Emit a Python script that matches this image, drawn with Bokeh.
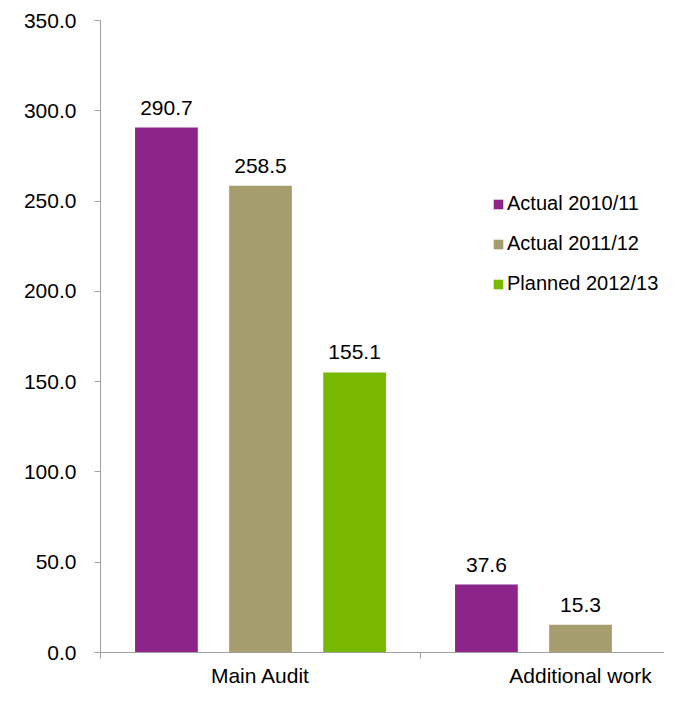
from bokeh.plotting import figure
from bokeh.models import (ColumnDataSource, Range1d, FixedTicker, PrintfTickFormatter,
                          Legend, LegendItem)
from bokeh.core.properties import value
from bokeh.embed import file_html
from bokeh.resources import INLINE

categories = ["Main Audit", "Additional work"]
series_names = ["Actual 2010/11", "Actual 2011/12", "Planned 2012/13"]
actual_2010_11 = [290.7, 37.6]
actual_2011_12 = [258.5, 15.3]
planned_2012_13 = [155.1, None]
colors = ["#8C2489", "#A69D6F", "#79B800"]
y_ticks = [0, 50, 100, 150, 200, 250, 300, 350]

FONT = "Liberation Sans"
FS = "21px"

p = figure(width=664, height=689, output_backend="svg", toolbar_location=None,
           x_range=Range1d(0, 564 / 320), y_range=Range1d(0, 350),
           min_border_left=100, min_border_right=0, min_border_top=20, min_border_bottom=33)
p.outline_line_color = None
p.xgrid.visible = False
p.ygrid.visible = False
p.background_fill_color = "white"
p.border_fill_color = "white"

offsets = [-0.294, 0.0, 0.294]
bar_w = 0.196
all_series = [actual_2010_11, actual_2011_12, planned_2012_13]
items = []
for name, vals, off, col in zip(series_names, all_series, offsets, colors):
    xs, tops, labels = [], [], []
    for i, v in enumerate(vals):
        if v is None:
            continue
        xs.append(i + 0.5 + off)
        tops.append(v)
        labels.append(f"{v:.1f}")
    src = ColumnDataSource(dict(x=xs, top=tops, label=labels))
    r = p.vbar(x="x", top="top", width=bar_w, bottom=0, source=src,
               fill_color=col, line_color=None)
    p.text(x="x", y="top", text="label", source=src, text_align="center",
           text_baseline="alphabetic", y_offset=-20, text_font=value(FONT),
           text_font_size=FS, text_color="black")
    items.append(LegendItem(label=name, renderers=[r]))

legend = Legend(items=items, location=(392, 357), orientation="vertical",
                glyph_width=12, glyph_height=12, label_height=20, spacing=17,
                label_standoff=3, padding=0, margin=0,
                border_line_color=None, background_fill_alpha=0,
                label_text_font=FONT, label_text_font_size="20px",
                label_text_color="black")
p.add_layout(legend, "center")

# Y axis
ya = p.yaxis[0]
ya.ticker = FixedTicker(ticks=y_ticks)
ya.formatter = PrintfTickFormatter(format="%.1f")
ya.axis_line_color = "#A0A0A0"
ya.major_tick_line_color = "#A0A0A0"
ya.major_tick_out = 6
ya.major_tick_in = 0
ya.minor_tick_line_color = None
ya.major_label_standoff = 18
ya.major_label_text_font = FONT
ya.major_label_text_font_size = FS
ya.major_label_text_color = "black"

# X axis
xa = p.xaxis[0]
xa.ticker = FixedTicker(ticks=[0.5, 1.5], minor_ticks=[0, 1, 2])
xa.major_label_overrides = {0.5: categories[0], 1.5: categories[1]}
xa.axis_line_color = "#A0A0A0"
xa.major_tick_line_color = None
xa.major_tick_out = 6
xa.major_tick_in = 0
xa.minor_tick_line_color = "#A0A0A0"
xa.minor_tick_out = 6
xa.minor_tick_in = 0
xa.major_label_standoff = 5
xa.major_label_text_font = FONT
xa.major_label_text_font_size = FS
xa.major_label_text_color = "black"

open("out.html", "w").write(file_html(p, INLINE))
